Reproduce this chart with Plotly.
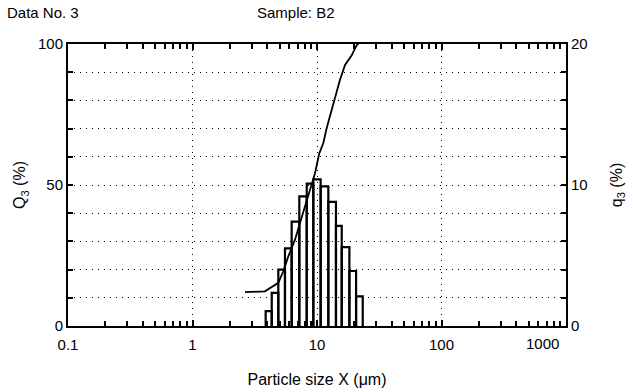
import math
import plotly.graph_objects as go

# ---- data ----
bin_edges = [3.87, 4.33, 4.89, 5.53, 6.26, 7.21, 8.27, 9.34, 10.7, 12.33, 14.2, 15.8, 18.2, 20.6, 23.3]
q3_values = [1.05, 2.35, 4.0, 5.5, 7.4, 9.2, 10.1, 10.4, 9.9, 8.8, 7.1, 5.6, 3.9, 2.1]

cum_x = [2.64, 3.82, 4.89, 5.36, 5.88, 6.66, 7.30, 8.01, 9.07, 9.64, 10.4, 11.24,
         11.97, 12.72, 13.95, 15.30, 16.79, 19.0, 20.84, 21.5]
cum_Q = [12.0, 12.3, 15.3, 19.4, 24.7, 30.6, 36.5, 42.4, 49.5, 54.2, 61.0, 64.9,
         70.2, 74.3, 80.2, 87.3, 92.6, 96.0, 99.6, 100.0]

x_tickvals = [0.1, 1, 10, 100, 1000]
x_ticktext = ["0.1", "1", "10", "100", "1000"]
x_minor = [m * 10 ** d for d in range(-1, 3) for m in range(2, 10)]

FONT = "Liberation Sans, Arial, sans-serif"

# histogram outlines built from the bin edges / heights
hx, hy = [], []
for i, h in enumerate(q3_values):
    x0, x1 = bin_edges[i], bin_edges[i + 1]
    hx += [x0, x0, x1, x1, None]
    hy += [0, h, h, 0, None]

fig = go.Figure()
fig.add_trace(go.Scatter(x=hx, y=hy, mode="lines", yaxis="y2",
                         line=dict(color="black", width=2.2), showlegend=False,
                         hoverinfo="skip"))
fig.add_trace(go.Scatter(x=cum_x, y=cum_Q, mode="lines", yaxis="y",
                         line=dict(color="black", width=1.8), showlegend=False))

# last x tick label drawn as annotation (shifted left like the reference)
shown_text = x_ticktext[:-1] + [""]

fig.update_layout(
    width=633, height=392,
    margin=dict(l=68, r=67, t=44, b=66),
    paper_bgcolor="white", plot_bgcolor="white",
    font=dict(family=FONT, size=15, color="black"),
    xaxis=dict(
        type="log", range=[-1, 3], automargin=False,
        tickvals=x_tickvals, ticktext=shown_text,
        ticks="inside", ticklen=6, tickwidth=1.5, tickcolor="black",
        showline=True, linecolor="black", linewidth=2, mirror="ticks",
        showgrid=True, gridcolor="black", gridwidth=1, griddash="1px,5px",
        minor=dict(tickvals=x_minor, ticks="inside", ticklen=5, tickwidth=1.5,
                   tickcolor="black", showgrid=False),
        zeroline=False, ticklabelstandoff=4,
        title=dict(text="Particle size X (μm)", font=dict(size=16), standoff=22),
        tickfont=dict(size=15),
    ),
    yaxis=dict(
        range=[0, 100], tickvals=[0, 50, 100], automargin=False,
        ticks="inside", ticklen=5, tickwidth=1.5, tickcolor="black",
        showline=True, linecolor="black", linewidth=2,
        showgrid=True, gridcolor="black", gridwidth=1, griddash="1px,5px",
        minor=dict(dtick=10, tick0=0, ticks="inside", ticklen=5, tickwidth=1.5,
                   tickcolor="black", showgrid=True, gridcolor="black",
                   gridwidth=1, griddash="1px,5px"),
        zeroline=False,
        title=dict(text="Q<sub>3</sub> (%)", font=dict(size=16), standoff=8),
        tickfont=dict(size=15),
    ),
    yaxis2=dict(
        overlaying="y", side="right", range=[0, 20], tickvals=[0, 10, 20],
        automargin=False,
        ticks="inside", ticklen=5, tickwidth=1.5, tickcolor="black",
        showline=True, linecolor="black", linewidth=2,
        showgrid=False, zeroline=False,
        minor=dict(dtick=2, tick0=0, ticks="inside", ticklen=5, tickwidth=1.5,
                   tickcolor="black", showgrid=False),
        title=dict(text="q<sub>3</sub> (%)", font=dict(size=16), standoff=24),
        tickfont=dict(size=15),
    ),
    annotations=[
        dict(text="Data No. 3", xref="paper", yref="paper",
             x=(5 - 68) / 498, y=1 + (44 - 12) / 282.5, xanchor="left", yanchor="middle",
             showarrow=False, font=dict(size=15)),
        dict(text="Sample: B2", xref="paper", yref="paper",
             x=(255 - 68) / 498, y=1 + (44 - 12) / 282.5, xanchor="left", yanchor="middle",
             showarrow=False, font=dict(size=15)),
        dict(text=x_ticktext[-1], xref="x", yref="paper",
             x=math.log10(x_tickvals[-1]), y=-(344 - 326.5) / 282.5,
             xanchor="right", yanchor="middle", xshift=-5,
             showarrow=False, font=dict(size=15)),
    ],
)

fig.write_html("out.html")
